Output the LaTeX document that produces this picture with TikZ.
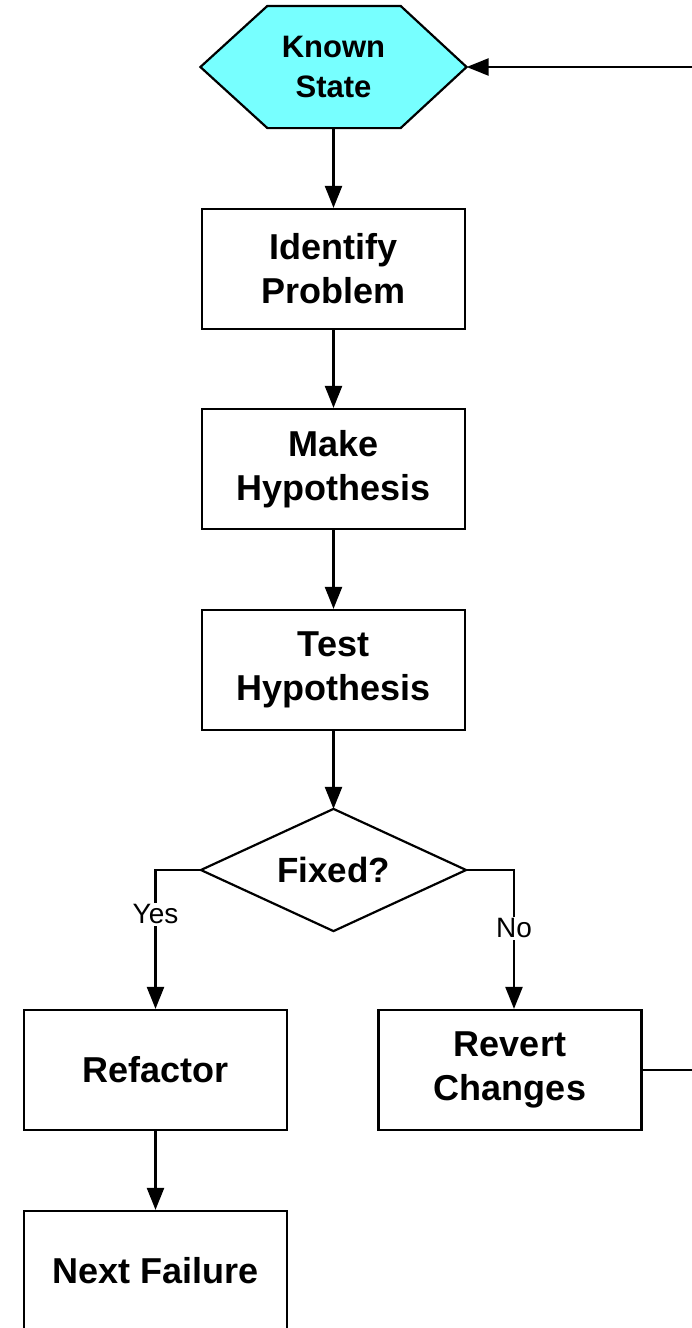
\documentclass[tikz,border=0pt]{standalone}
\usepackage{fontspec}
\setmainfont{Liberation Sans}
\usetikzlibrary{arrows.meta}
\definecolor{hexcyan}{RGB}{119,255,255}
\begin{document}
\begin{tikzpicture}[x=1pt,y=-1pt,
  line width=2.2pt,
  box/.style={draw, line width=2.2pt, minimum width=263pt, minimum height=120pt, inner sep=0pt, align=center, font=\bfseries\fontsize{36}{44}\selectfont},
  ghost/.style={minimum width=264pt, minimum height=120pt, inner sep=0pt, align=center},
  arr/.style={-{Triangle[length=22pt,width=17pt]}, line width=2.2pt},
  lbl/.style={fill=white, inner sep=2pt, font=\fontsize{28}{30}\selectfont}]
\useasboundingbox (0,0) rectangle (692,1328);
\clip (0,0) rectangle (692,1328);
\fill[white] (0,0) rectangle (692,1328);
% hexagon
\node[ghost] (known) at (333.5,67) {};
\filldraw[fill=hexcyan, line width=2.2pt, line join=miter]
  (known.west) -- ([xshift=67pt]known.north west) -- ([xshift=-66pt]known.north east)
  -- (known.east) -- ([xshift=-66pt]known.south east) -- ([xshift=67pt]known.south west) -- cycle;
\node[align=center, font=\bfseries\fontsize{31}{40}\selectfont] (knowntxt) at (known.center) {Known\\State};
% boxes
\node[box] (identify) at (333.5,269) {Identify\\Problem};
\node[box] (hyp) at (333.5,469) {Make\\Hypothesis};
\node[box] (test) at (333.5,670) {Test\\Hypothesis};
% diamond
\node[ghost, minimum width=263pt] (fixed) at (333.5,870) {};
\draw[line width=2.2pt, line join=miter] (fixed.west) -- (fixed.north) -- (fixed.east) -- (fixed.south) -- cycle;
\node[font=\bfseries\fontsize{35}{40}\selectfont] (fixedtxt) at (fixed.center) {Fixed?};
\node[box] (refactor) at (155.5,1070) {Refactor};
\node[box] (revert) at (510,1070) {Revert\\Changes};
\node[box] (next) at (155.5,1271) {Next Failure};
% connectors
\draw[arr] (known.south) -- (identify.north);
\draw[arr] (identify.south) -- (hyp.north);
\draw[arr] (hyp.south) -- (test.north);
\draw[arr] (test.south) -- (fixed.north);
\draw[arr] (fixed.west) -| (refactor.north) node[lbl, pos=0.66] {Yes};
\draw[arr] (fixed.east) -| ([xshift=4pt]revert.north) node[lbl, pos=0.71] {No};
\draw[arr] (refactor.south) -- (next.north);
\coordinate (loop) at (720,1070);
\draw[arr] (revert.east) -- (loop) |- (known.east);
\end{tikzpicture}
\end{document}
